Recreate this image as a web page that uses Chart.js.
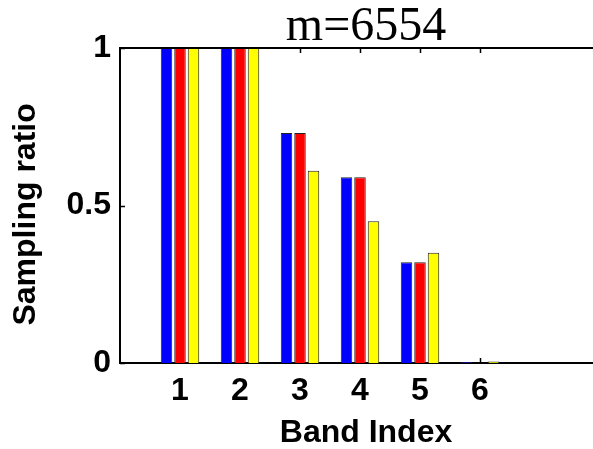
<!DOCTYPE html>
<html>
<head>
<meta charset="utf-8">
<script src="https://cdn.jsdelivr.net/npm/chart.js@4"></script>
<style>
  html, body { margin: 0; padding: 0; background: #fff; overflow: hidden; }
  #wrap { width: 612px; height: 449px; }
</style>
</head>
<body>
<div id="wrap"><canvas id="bands" width="612" height="449"></canvas></div>
<script>
const bands = [1, 2, 3, 4, 5, 6];
const blueVals = [1, 1, 0.73, 0.59, 0.32, 0.003];
const redVals = [1, 1, 0.73, 0.59, 0.32, 0];
const yellowVals = [1, 1, 0.61, 0.45, 0.35, 0.005];
const yTicks = [0, 0.5, 1];

function pts(vals) {
    return bands.map((b, i) => ({ x: b, y: vals[i] }));
}

// matlab style: top box line + ticks pointing inwards
const boxTicks = {
    id: 'boxTicks',
    beforeDatasetsDraw(chart) {
        const ctx = chart.ctx;
        const a = chart.chartArea;
        const xs = chart.scales.x, ys = chart.scales.y;
        ctx.save();
        ctx.strokeStyle = '#000';
        ctx.lineWidth = 1.5;
        ctx.beginPath();
        bands.forEach(b => {
            const px = Math.round(xs.getPixelForValue(b)) + 0.5;
            ctx.moveTo(px, a.bottom);
            ctx.lineTo(px, a.bottom - 5);
            ctx.moveTo(px, a.top);
            ctx.lineTo(px, a.top + 5);
        });
        yTicks.forEach(v => {
            const py = Math.round(ys.getPixelForValue(v)) + 0.5;
            ctx.moveTo(a.left, py);
            ctx.lineTo(a.left + 5, py);
        });
        ctx.stroke();
        ctx.restore();
    },
    afterDraw(chart) {
        const ctx = chart.ctx;
        const a = chart.chartArea;
        ctx.save();
        ctx.strokeStyle = '#000';
        ctx.lineWidth = 2;
        ctx.beginPath();
        ctx.moveTo(a.left - 1, a.top);
        ctx.lineTo(a.right, a.top);
        ctx.stroke();
        ctx.restore();
    }
};

const barStyle = { borderColor: '#222', borderWidth: 1, categoryPercentage: 0.675, barPercentage: 0.85 };
const sans = { family: 'Liberation Sans', size: 32, weight: 'bold' };

new Chart(document.querySelector('#bands').getContext('2d'), {
    type: 'bar',
    data: {
        datasets: [
            { label: 'a', data: pts(blueVals), backgroundColor: '#0000ff', ...barStyle },
            { label: 'b', data: pts(redVals), backgroundColor: '#ff0000', ...barStyle },
            { label: 'c', data: pts(yellowVals), backgroundColor: '#ffff00', ...barStyle }
        ]
    },
    options: {
        responsive: false,
        animation: false,
        layout: { padding: 0 },
        plugins: {
            legend: { display: false },
            tooltip: { enabled: false },
            title: {
                display: true,
                text: 'm=6554',
                fullSize: false,
                color: '#000',
                font: { family: 'Liberation Serif', size: 48, weight: 'normal', lineHeight: 1 },
                padding: { top: 3, bottom: -3 }
            }
        },
        scales: {
            x: {
                type: 'linear',
                min: 0,
                max: 8.2,
                offset: false,
                grid: { display: false, drawTicks: false, offset: false },
                border: { display: true, color: '#000', width: 2 },
                afterBuildTicks: s => { s.ticks = bands.map(v => ({ value: v })); },
                afterFit: s => { s.height = 86; },
                ticks: {
                    color: '#000',
                    padding: 9,
                    maxRotation: 0,
                    font: sans
                },
                title: {
                    display: true,
                    text: 'Band Index',
                    color: '#000',
                    font: { ...sans, lineHeight: 1 },
                    padding: { top: 0, bottom: 0 }
                }
            },
            y: {
                min: 0,
                max: 1,
                grid: { display: false, drawTicks: false },
                border: { display: true, color: '#000', width: 2 },
                afterBuildTicks: s => { s.ticks = yTicks.map(v => ({ value: v })); },
                afterFit: s => { s.width = 120; },
                ticks: {
                    color: '#000',
                    padding: 9,
                    font: sans,
                    callback: v => String(v)
                },
                title: {
                    display: true,
                    text: 'Sampling ratio  ',
                    color: '#000',
                    font: { ...sans, lineHeight: 1 },
                    padding: { top: 10, bottom: 0 }
                }
            }
        }
    },
    plugins: [boxTicks]
});
</script>
</body>
</html>
